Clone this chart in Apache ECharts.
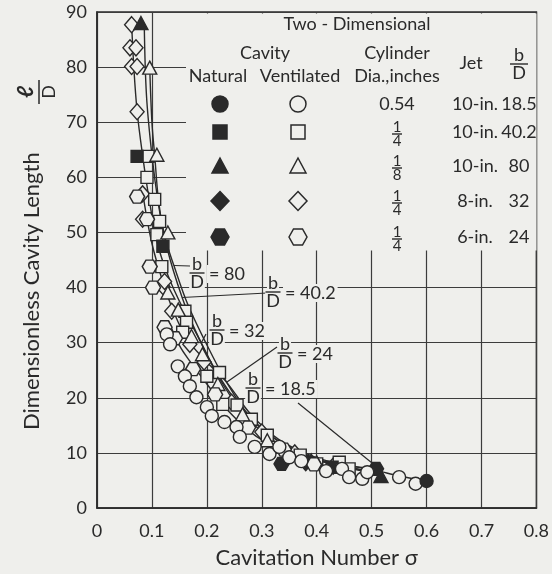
<!DOCTYPE html>
<html>
<head>
<meta charset="utf-8">
<script src="https://cdn.jsdelivr.net/npm/echarts@6.0.0/dist/echarts.min.js"></script>
<style>
  html, body { margin: 0; padding: 0; background: #efefec; }
  #chart { width: 552px; height: 574px; }
</style>
</head>
<body>
<div id="chart"></div>
<script>
// Cavity length l/D against cavitation number sigma, two-dimensional jets.
// Each pair is [sigma, l/D].

// b/D = 18.5, 0.54-in. cylinder
const natCircle = [[0.6, 4.9]];
const ventCircle = [
  [0.127, 31.5], [0.133, 29.7], [0.147, 25.7], [0.16, 23.9], [0.169, 22.1],
  [0.181, 20.1], [0.2, 18.3], [0.209, 16.7], [0.232, 15.6], [0.254, 14.7],
  [0.26, 12.9], [0.287, 11.1], [0.314, 9.8], [0.332, 11.1], [0.35, 9.2],
  [0.372, 8.5], [0.417, 6.7], [0.446, 7.1], [0.459, 5.6], [0.483, 5.3],
  [0.492, 6.5], [0.55, 5.6], [0.58, 4.4]
];
// b/D = 40.2, 1/4-in. cylinder
const natSquare = [[0.073, 63.8], [0.12, 47.5], [0.428, 7.4]];
const ventSquare = [
  [0.093, 63.8], [0.091, 60], [0.105, 56], [0.114, 52], [0.109, 49.6],
  [0.118, 43.8], [0.16, 35.7], [0.163, 33.7], [0.156, 31.9], [0.2, 23.9],
  [0.223, 24.6], [0.229, 18.8], [0.255, 18.7], [0.281, 16.1], [0.31, 13.2],
  [0.37, 9.6], [0.4, 8], [0.441, 8.3], [0.459, 7.1]
];
// b/D = 80, 1/8-in. cylinder
const natTriangle = [[0.08, 88], [0.39, 8.6], [0.517, 5.8]];
const ventTriangle = [
  [0.096, 79.9], [0.109, 64.1], [0.129, 50], [0.129, 39.1], [0.148, 36.0],
  [0.172, 31.2], [0.192, 27.9], [0.22, 22.5], [0.265, 17.0], [0.31, 12.3], [0.4, 8.3]
];
// b/D = 32, 1/4-in. cylinder
const natDiamond = [[0.38, 8.2]];
const ventDiamond = [
  [0.063, 87.7], [0.06, 83.5], [0.071, 83.5], [0.063, 80.1], [0.073, 80.1],
  [0.073, 71.9], [0.083, 57], [0.083, 52.4], [0.12, 40.2], [0.123, 41.1],
  [0.136, 35.7], [0.169, 29.7], [0.195, 26.5], [0.245, 19.2], [0.3, 13.8],
  [0.36, 10.0], [0.43, 7.6]
];
// b/D = 24, 1/4-in. cylinder
const natHexagon = [[0.336, 8.0], [0.508, 7.1]];
const ventHexagon = [
  [0.073, 56.5], [0.091, 52.4], [0.096, 43.8], [0.102, 40], [0.123, 32.8],
  [0.142, 30.8], [0.175, 25.2], [0.215, 20.6], [0.275, 14.6], [0.34, 10.6], [0.395, 7.9]
];

// faired curves, one per b/D
const curve80 = [[0.086, 88], [0.09, 75], [0.1, 64], [0.112, 55], [0.124, 49], [0.14, 44], [0.165, 37], [0.198, 30], [0.235, 23], [0.275, 17], [0.325, 12.5], [0.39, 9.2], [0.46, 7.3], [0.52, 6.2]];
const curve40 = [[0.096, 80], [0.1, 70], [0.105, 64], [0.113, 55], [0.128, 47], [0.155, 38.2], [0.18, 32], [0.21, 26], [0.245, 20.5], [0.29, 15.2], [0.345, 11.3], [0.41, 8.6], [0.5, 6.6]];
const curve32 = [[0.063, 88], [0.067, 80], [0.073, 72], [0.083, 64], [0.095, 56], [0.11, 48], [0.13, 42], [0.155, 36.5], [0.187, 30.5], [0.22, 24], [0.26, 18], [0.31, 13], [0.37, 9.8], [0.45, 7.4], [0.52, 6.2]];
const curve24 = [[0.085, 56], [0.1, 48], [0.12, 41], [0.14, 35.5], [0.165, 30.5], [0.2, 26.5], [0.236, 22.8], [0.28, 17], [0.33, 12.5], [0.39, 9.5], [0.45, 7.8], [0.508, 7.1]];
const curve18 = [[0.13, 34], [0.15, 29.5], [0.17, 26.5], [0.2, 22.5], [0.24, 17.5], [0.29, 13], [0.35, 10], [0.42, 8.2], [0.5, 7.0], [0.55, 5.8], [0.6, 4.9]];

const xTicks = [0, 0.1, 0.2, 0.3, 0.4, 0.5, 0.6, 0.7, 0.8];
const yTicks = [0, 10, 20, 30, 40, 50, 60, 70, 80, 90];

const INK = '#2a2a2a';
const PAPER = '#efefec';
const FONT = 'Lato, "DejaVu Sans", sans-serif';
const HEX = 'path://M0,5L2.9,0L8.7,0L11.6,5L8.7,10L2.9,10Z';

function markers(name, data, symbol, size, filled) {
  return {
    name, type: 'scatter', data, symbol, symbolSize: size, z: 4,
    itemStyle: { color: filled ? INK : PAPER, borderColor: INK, borderWidth: 1.4, opacity: 1 },
    emphasis: { disabled: true }
  };
}
function curve(name, data) {
  return {
    name, type: 'line', data, smooth: 0.35, showSymbol: false, z: 3,
    lineStyle: { color: INK, width: 1.4 }, emphasis: { disabled: true }
  };
}

const chart = echarts.init(document.getElementById('chart'), null, { renderer: 'canvas' });

chart.setOption({
  backgroundColor: PAPER,
  animation: false,
  grid: { left: 97, right: 14, top: 12, bottom: 65, show: true, borderColor: INK, borderWidth: 1.5, backgroundColor: 'transparent' },
  xAxis: {
    type: 'value', min: xTicks[0], max: xTicks[xTicks.length - 1], interval: 0.1,
    name: 'Cavitation Number σ', nameLocation: 'middle', nameGap: 39,
    nameTextStyle: { fontFamily: FONT, fontSize: 22, color: INK },
    axisLine: { show: true, lineStyle: { color: INK, width: 1.5 } },
    axisTick: { show: false },
    axisLabel: { margin: 14, fontFamily: FONT, fontSize: 18, color: INK,
      formatter: v => (v === 0 ? '0' : v.toFixed(1)) },
    splitLine: { show: true, lineStyle: { color: '#3c3c3c', width: 1.2 } }
  },
  yAxis: {
    type: 'value', min: yTicks[0], max: yTicks[yTicks.length - 1], interval: 10,
    axisLine: { show: true, lineStyle: { color: INK, width: 1.5 } },
    axisTick: { show: false },
    axisLabel: { margin: 10, fontFamily: FONT, fontSize: 18, color: INK },
    splitLine: { show: true, lineStyle: { color: '#3c3c3c', width: 1.2 } }
  },
  series: [
    curve('b/D 80', curve80), curve('b/D 40.2', curve40), curve('b/D 32', curve32),
    curve('b/D 24', curve24), curve('b/D 18.5', curve18),
    markers('vent 32', ventDiamond, 'diamond', [14, 16], false),
    markers('nat 32', natDiamond, 'diamond', [14, 16], true),
    markers('vent 40.2', ventSquare, 'rect', 12, false),
    markers('nat 40.2', natSquare, 'rect', 12, true),
    markers('vent 80', ventTriangle, 'triangle', [14, 13], false),
    markers('nat 80', natTriangle, 'triangle', [14, 13], true),
    markers('vent 24', ventHexagon, HEX, [15, 13], false),
    markers('nat 24', natHexagon, HEX, [15, 13], true),
    markers('vent 18.5', ventCircle, 'circle', 13, false),
    markers('nat 18.5', natCircle, 'circle', 13, true)
  ]
});

// ---- text and key drawn on top of the plot ----
function txt(x, y, text, size, align, extra) {
  return Object.assign({
    type: 'text', x, y, z: 20,
    style: { text, fill: INK, font: size + 'px ' + FONT, align: align || 'center', verticalAlign: 'middle' }
  }, extra || {});
}
function frac(cx, cy, top, bottom, size, w, bg) {
  const bgStyle = bg ? { backgroundColor: PAPER, padding: [0, 1] } : {};
  const a = txt(cx, cy - size * 0.48, top, size, 'center');
  const b = txt(cx, cy + size * 0.5, bottom, size, 'center');
  Object.assign(a.style, bgStyle); Object.assign(b.style, bgStyle);
  return [a, b, { type: 'line', z: 21, shape: { x1: cx - w / 2, y1: cy, x2: cx + w / 2, y2: cy }, style: { stroke: INK, lineWidth: 1.4 } }];
}
function keySymbol(kind, cx, cy, filled) {
  const style = { fill: filled ? INK : PAPER, stroke: INK, lineWidth: 1.5 };
  if (kind === 'circle') return { type: 'circle', z: 20, shape: { cx, cy, r: 8 }, style };
  if (kind === 'rect') return { type: 'rect', z: 20, shape: { x: cx - 7, y: cy - 7, width: 14, height: 14 }, style };
  const pts = {
    triangle: [[cx, cy - 8], [cx + 8, cy + 7], [cx - 8, cy + 7]],
    diamond: [[cx, cy - 9.5], [cx + 9, cy], [cx, cy + 9.5], [cx - 9, cy]],
    hexagon: [[cx - 9, cy], [cx - 4.5, cy - 8], [cx + 4.5, cy - 8], [cx + 9, cy], [cx + 4.5, cy + 8], [cx - 4.5, cy + 8]]
  }[kind];
  return { type: 'polygon', z: 20, shape: { points: pts }, style };
}

const keyRows = [
  { kind: 'circle', dia: '0.54', jet: '10-in.', bd: '18.5', y: 104 },
  { kind: 'rect', dia: ['1', '4'], jet: '10-in.', bd: '40.2', y: 132 },
  { kind: 'triangle', dia: ['1', '8'], jet: '10-in.', bd: '80', y: 166 },
  { kind: 'diamond', dia: ['1', '4'], jet: '8-in.', bd: '32', y: 201 },
  { kind: 'hexagon', dia: ['1', '4'], jet: '6-in.', bd: '24', y: 237 }
];

function buildOverlay() {
  const g = [];
  // blank panel under the key
  g.push({ type: 'rect', z: 10, shape: { x: 186, y: 13.5, width: 350.5, height: 237 }, style: { fill: PAPER } });
  g.push(txt(357, 24, 'Two - Dimensional', 18));
  g.push(txt(265, 53, 'Cavity', 18));
  g.push(txt(397, 53, 'Cylinder', 18));
  g.push(txt(218, 76, 'Natural', 18));
  g.push(txt(300, 76, 'Ventilated', 18));
  g.push(txt(397, 76, 'Dia.,inches', 18));
  g.push(txt(471, 63, 'Jet', 18));
  g.push(...frac(519, 64, 'b', 'D', 18, 18));
  keyRows.forEach(r => {
    g.push(keySymbol(r.kind, 220, r.y, true));
    g.push(keySymbol(r.kind, 298, r.y, false));
    if (Array.isArray(r.dia)) g.push(...frac(397, r.y + 2, r.dia[0], r.dia[1], 15, 10));
    else g.push(txt(397, r.y, r.dia, 18));
    g.push(txt(475, r.y, r.jet, 18));
    g.push(txt(519, r.y, r.bd, 18));
  });

  // curve call-outs: label position, and the point on its curve
  const callouts = [
    { bd: '80', fx: 197, fy: 273, on: [0.14, 44], to: [190, 266] },
    { bd: '40.2', fx: 273, fy: 292, on: [0.155, 38.2], to: [267, 293] },
    { bd: '32', fx: 217, fy: 330, on: [0.19, 30], to: [206, 334] },
    { bd: '24', fx: 285, fy: 353, on: [0.236, 22.8], to: [277, 347] },
    { bd: '18.5', fx: 253, fy: 388, on: [0.499, 8.3], to: [298, 403] }
  ];
  callouts.forEach(c => {
    const p = chart.convertToPixel({ gridIndex: 0 }, c.on);
    g.push({ type: 'line', z: 12, shape: { x1: p[0], y1: p[1], x2: c.to[0], y2: c.to[1] }, style: { stroke: INK, lineWidth: 1.2 } });
    g.push(...frac(c.fx, c.fy, 'b', 'D', 18, 15, true));
    const eq = txt(c.fx + 10, c.fy + 1, '= ' + c.bd, 18, 'left');
    eq.style.backgroundColor = PAPER;
    eq.style.padding = [0, 2];
    g.push(eq);
  });

  // vertical axis title with l/D
  g.push({
    type: 'group', x: 32, y: 430, rotation: Math.PI / 2, z: 20,
    children: [
      { type: 'text', x: 0, y: 0, style: { text: 'Dimensionless Cavity Length', fill: INK, font: '22px ' + FONT, align: 'left', verticalAlign: 'middle' } },
      { type: 'text', x: 338, y: -6, style: { text: 'ℓ', fill: INK, font: 'italic bold 22px ' + FONT, align: 'center', verticalAlign: 'middle' } },
      { type: 'line', shape: { x1: 326, y1: 7, x2: 350, y2: 7 }, style: { stroke: INK, lineWidth: 1.5 } },
      { type: 'text', x: 338, y: 17, style: { text: 'D', fill: INK, font: '18px ' + FONT, align: 'center', verticalAlign: 'middle' } }
    ]
  });
  return g;
}

chart.setOption({ graphic: { elements: buildOverlay() } });
</script>
</body>
</html>
